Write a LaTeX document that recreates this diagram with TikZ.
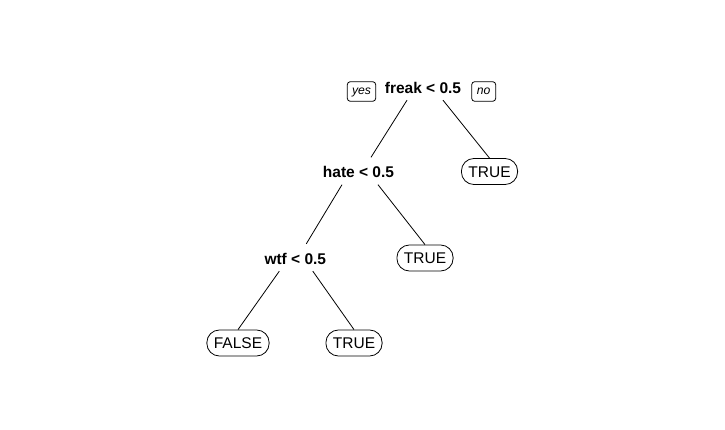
\documentclass[tikz,border=0pt]{standalone}
\usepackage{fontspec}
\setmainfont{Liberation Sans}
\begin{document}
\begin{tikzpicture}[x=1pt,y=-1pt,
  split/.style={font=\fontsize{15.5}{18}\selectfont\bfseries, inner sep=0pt,
    text height=11.3pt, text depth=0pt, minimum height=25pt},
  leaf/.style={draw, line width=0.8pt, font=\fontsize{15.5}{18}\selectfont,
    inner xsep=7pt, inner ysep=0pt, text height=11.1pt, text depth=0pt,
    minimum height=26pt, rounded corners=12.5pt},
  tag/.style={draw, line width=0.8pt, font=\fontsize{12.2}{14}\selectfont\itshape,
    inner sep=0pt, text height=6.3pt, text depth=0pt, minimum height=19.6pt,
    rounded corners=3pt},
  edge/.style={line width=0.8pt}]
\useasboundingbox (0,0) rectangle (725,430);
\node[split] (freak) at (423,87.5) {freak < 0.5};
\node[tag, minimum width=28.4pt] (yes) at (361.5,91.5) {yes};
\node[tag, minimum width=24pt] (no) at (483.7,91.5) {no};
\node[split] (hate) at (358.5,172) {hate < 0.5};
\node[leaf] (t1) at (489.5,171.5) {TRUE};
\node[split] (wtf) at (295.3,258.5) {wtf < 0.5};
\node[leaf] (t2) at (425,258) {TRUE};
\node[leaf] (false) at (238,343) {FALSE};
\node[leaf] (t3) at (354,343) {TRUE};
\draw[edge] ([xshift=-16pt]freak.south) -- ([xshift=12.5pt,yshift=2pt]hate.north);
\draw[edge] ([xshift=20pt]freak.south) -- (t1.north);
\draw[edge] ([xshift=-16.5pt]hate.south) -- ([xshift=11pt,yshift=2pt]wtf.north);
\draw[edge] ([xshift=19.5pt]hate.south) -- (t2.north);
\draw[edge] ([xshift=-16pt]wtf.south) -- (false.north);
\draw[edge] ([xshift=17.5pt]wtf.south) -- (t3.north);
\end{tikzpicture}
\end{document}
